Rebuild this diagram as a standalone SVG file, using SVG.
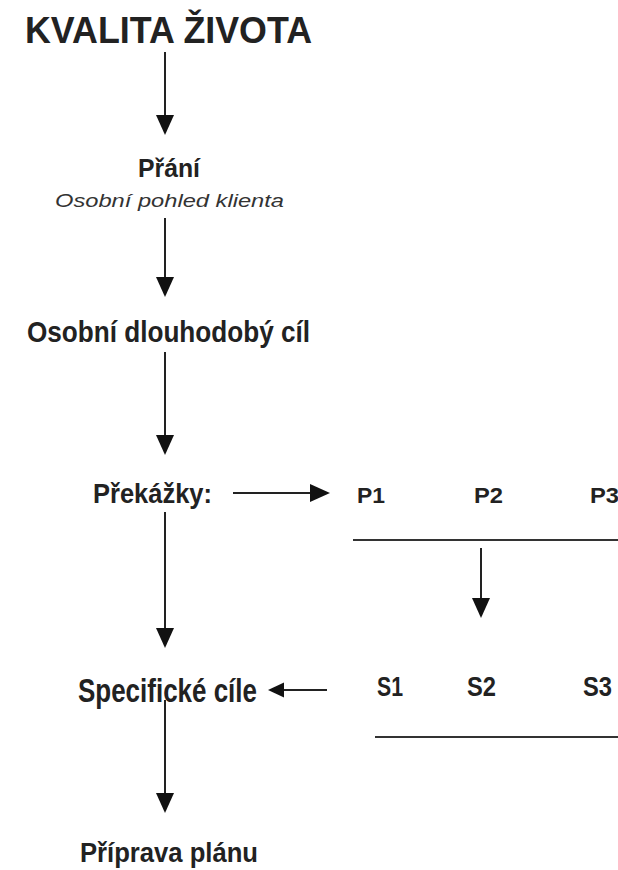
<svg xmlns="http://www.w3.org/2000/svg" width="618" height="870" viewBox="0 0 618 870">
  <style>
    .t { font-family: "Liberation Sans", Arial, sans-serif; font-weight: bold; fill: #222; }
    .i { font-family: "Liberation Sans", Arial, sans-serif; font-style: italic; fill: #333; }
    .c { stroke: #222; stroke-width: 2; fill: none; }
    .u { stroke: #333; stroke-width: 2.2; }
  </style>
  <defs>
    <marker id="ah" markerUnits="userSpaceOnUse" markerWidth="20" markerHeight="20" refX="10" refY="9" orient="auto">
      <path d="M0,0 L20,9 L0,18 z" fill="#111"/>
    </marker>
    <marker id="ahs" markerUnits="userSpaceOnUse" markerWidth="16" markerHeight="16" refX="8" refY="7.5" orient="auto">
      <path d="M0,0 L16,7.5 L0,15 z" fill="#111"/>
    </marker>
  </defs>
  <rect width="618" height="870" fill="#fff"/>

  <g id="kvalita"><text class="t" x="25" y="43" font-size="36" textLength="287" lengthAdjust="spacingAndGlyphs">KVALITA ŽIVOTA</text></g>
  <g id="prani">
    <text class="t" x="138" y="177" font-size="25" textLength="62" lengthAdjust="spacingAndGlyphs">Přání</text>
    <text class="i" x="55" y="207" font-size="19" textLength="229" lengthAdjust="spacingAndGlyphs">Osobní pohled klienta</text>
  </g>
  <g id="dlouhodoby"><text class="t" x="27" y="342" font-size="30" textLength="283" lengthAdjust="spacingAndGlyphs">Osobní dlouhodobý cíl</text></g>
  <g id="prekazky"><text class="t" x="93" y="503" font-size="28" textLength="119" lengthAdjust="spacingAndGlyphs">Překážky:</text></g>
  <g id="p1"><text class="t" x="357" y="503" font-size="22" textLength="28" lengthAdjust="spacingAndGlyphs">P1</text></g>
  <g id="p2"><text class="t" x="474" y="503" font-size="22" textLength="29" lengthAdjust="spacingAndGlyphs">P2</text></g>
  <g id="p3"><text class="t" x="590" y="503" font-size="22" textLength="29" lengthAdjust="spacingAndGlyphs">P3</text></g>
  <g id="specificke"><text class="t" x="78" y="702" font-size="33" textLength="179" lengthAdjust="spacingAndGlyphs" fill="#111">Specifické cíle</text></g>
  <g id="s1"><text class="t" x="377" y="696" font-size="28" textLength="26" lengthAdjust="spacingAndGlyphs">S1</text></g>
  <g id="s2"><text class="t" x="467" y="696" font-size="28" textLength="29" lengthAdjust="spacingAndGlyphs">S2</text></g>
  <g id="s3"><text class="t" x="583" y="696" font-size="28" textLength="29" lengthAdjust="spacingAndGlyphs">S3</text></g>
  <g id="priprava"><text class="t" x="80" y="862" font-size="27" textLength="178" lengthAdjust="spacingAndGlyphs">Příprava plánu</text></g>

  <g id="connectors">
    <line class="c" x1="165" y1="52" x2="165" y2="125" marker-end="url(#ah)"/>
    <line class="c" x1="165" y1="218" x2="165" y2="287" marker-end="url(#ah)"/>
    <line class="c" x1="165" y1="352" x2="165" y2="445" marker-end="url(#ah)"/>
    <line class="c" x1="233" y1="493" x2="320" y2="493" marker-end="url(#ah)"/>
    <line class="c" x1="165" y1="512" x2="165" y2="638" marker-end="url(#ah)"/>
    <line class="c" x1="481" y1="548" x2="481" y2="608" marker-end="url(#ah)"/>
    <line class="c" x1="327" y1="690" x2="276" y2="690" marker-end="url(#ahs)"/>
    <line class="c" x1="165" y1="700" x2="165" y2="803" marker-end="url(#ah)"/>
    <line class="u" x1="353" y1="540" x2="618" y2="540"/>
    <line class="u" x1="375" y1="737" x2="618" y2="737"/>
  </g>
</svg>
